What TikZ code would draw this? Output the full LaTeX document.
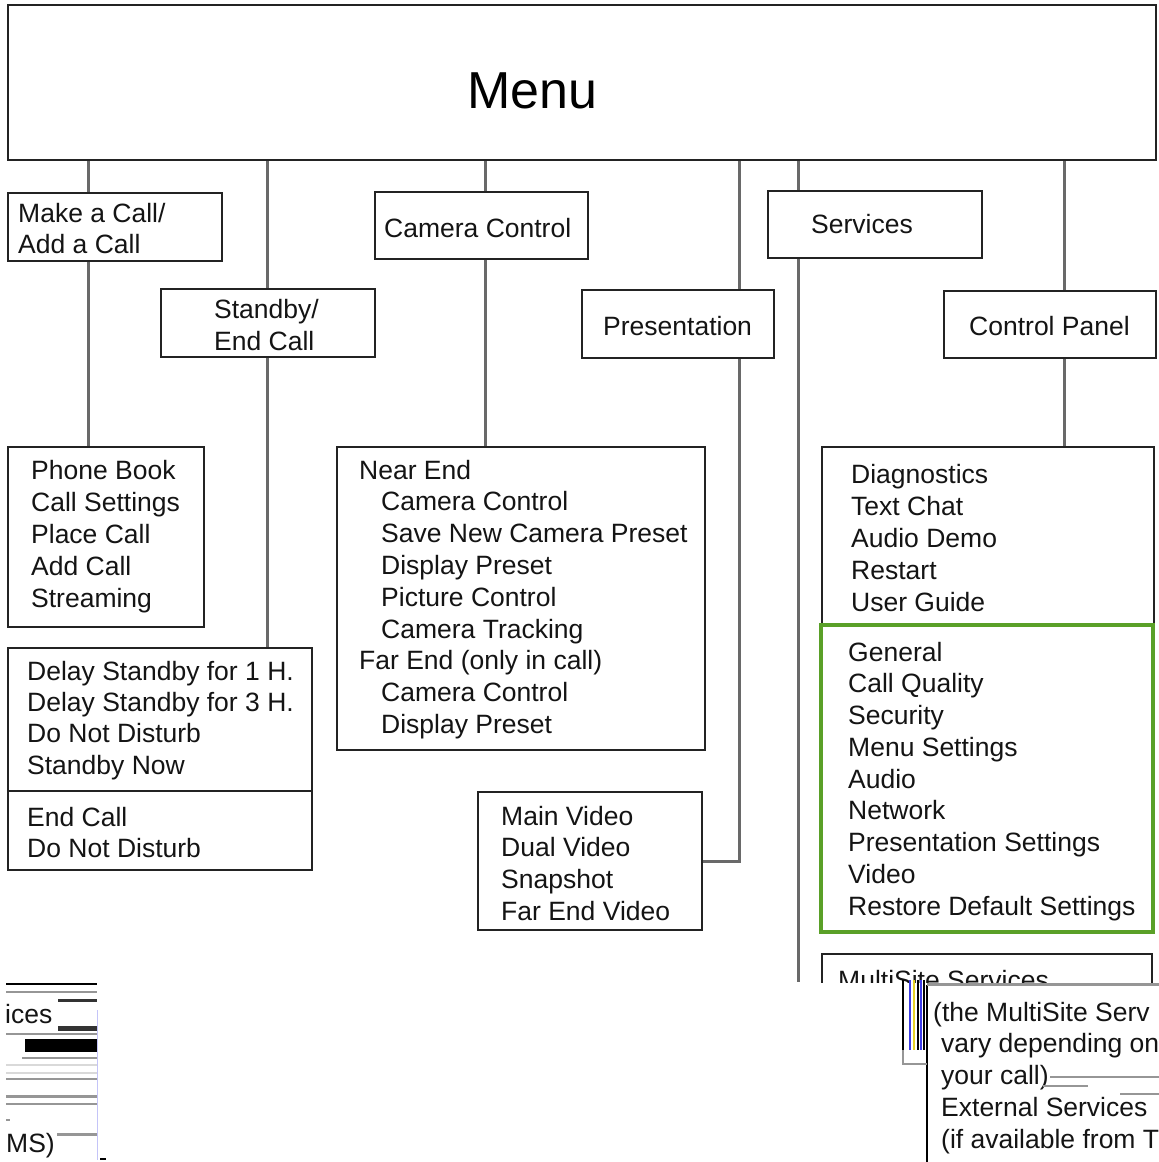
\documentclass[tikz,border=0pt]{standalone}
\usepackage{fontspec}
\setmainfont{Liberation Sans}
\usetikzlibrary{fit}
\newcommand\fsz{\fontsize{26.5}{32}\selectfont}
\newcommand\fbig{\fontsize{52}{60}\selectfont}
\definecolor{boxc}{RGB}{35,35,35}
\definecolor{connc}{RGB}{105,105,105}
\definecolor{grn}{RGB}{90,160,40}
\definecolor{txtc}{RGB}{20,20,20}
\definecolor{fragg}{RGB}{150,150,150}
\definecolor{fragb}{RGB}{60,60,230}
\definecolor{fragy}{RGB}{230,210,40}
\begin{document}
\begin{tikzpicture}[x=1pt,y=-1pt,
  boxn/.style={draw=boxc, line width=2.5pt, fill=white, inner sep=0pt, rectangle},
  greenbox/.style={draw=grn, line width=3.2pt, inner sep=0pt, rectangle},
  conn/.style={draw=connc, line width=3pt},
  item/.style={anchor=base west, inner sep=0pt, font=\fsz, text=txtc},
  bigt/.style={anchor=base west, inner sep=0pt, font=\fbig, text=black},
  frag/.style={draw=fragg, line width=1.6pt},
  fragdark/.style={draw=black!80, line width=3pt}]
\useasboundingbox (0,0) rectangle (1159,1162);
\fill[white] (0,0) rectangle (1159,1162);

% ---------- boxes ----------
\node[boxn, fit={(8,5) (1156,160)}] (menu) {};
\node[boxn, fit={(8,193) (222,261)}] (mk) {};
\node[boxn, fit={(161,289) (375,357)}] (sb) {};
\node[boxn, fit={(375,192) (588,259)}] (cc) {};
\node[boxn, fit={(582,290) (774,358)}] (pr) {};
\node[boxn, fit={(768,191) (982,258)}] (sv) {};
\node[boxn, fit={(944,291) (1156,358)}] (cp) {};
\node[boxn, fit={(8,447) (204,627)}] (pb) {};
\node[boxn, fit={(8,648) (312,870)}] (ds) {};
\node[boxn, fit={(337,447) (705,750)}] (ne) {};
\node[boxn, fit={(478,792) (702,930)}] (mv) {};
\node[boxn, fit={(822,447) (1154,626)}] (dg) {};
\node[greenbox, fit={(821,625) (1153,932)}] (gr) {};
\draw[draw=boxc, line width=2.5pt] (ds.west |- 0,791) -- (ds.east |- 0,791);

% ---------- connector x positions ----------
\coordinate (c1) at (88.5,0);
\coordinate (c2) at (267,0);
\coordinate (c3) at (485,0);
\coordinate (c4) at (739,0);
\coordinate (c5) at (798.5,0);
\coordinate (c6) at (1064.5,0);
\coordinate (svend) at (798.5,982);

\draw[conn] (menu.south -| c1) -- (mk.north -| c1);
\draw[conn] (mk.south -| c1) -- (pb.north -| c1);
\draw[conn] (menu.south -| c2) -- (sb.north -| c2);
\draw[conn] (sb.south -| c2) -- (ds.north -| c2);
\draw[conn] (menu.south -| c3) -- (cc.north -| c3);
\draw[conn] (cc.south -| c3) -- (ne.north -| c3);
\draw[conn] (menu.south -| c4) -- (pr.north -| c4);
\draw[conn] (pr.south -| c4) -- (c4 |- mv.east) -- (mv.east);
\draw[conn] (menu.south -| c5) -- (sv.north -| c5);
\draw[conn] (sv.south -| c5) -- (svend);
\draw[conn] (menu.south -| c6) -- (cp.north -| c6);
\draw[conn] (cp.south -| c6) -- (dg.north -| c6);

% ---------- labels ----------
\node[bigt] (tmenu) at (467,108) {Menu};
\node[item] (tmk1) at (18,222) {Make a Call/};
\node[item] (tmk2) at (18,253) {Add a Call};
\node[item] (tsb1) at (214,318) {Standby/};
\node[item] (tsb2) at (214,350) {End Call};
\node[item] (tcc) at (384,237) {Camera Control};
\node[item] (tpr) at (603,335) {Presentation};
\node[item] (tsv) at (811,233) {Services};
\node[item] (tcp) at (969,335) {Control Panel};

\foreach \t [count=\i from 0] in {Phone Book, Call Settings, Place Call, Add Call, Streaming}
  \node[item] (pb-\i) at (31,{479+32*\i}) {\t};
\foreach \t [count=\i from 0] in {Delay Standby for 1 H., Delay Standby for 3 H., Do Not Disturb, Standby Now}
  \node[item] (ds-\i) at (27,{680+31.4*\i}) {\t};
\node[item] (ds-4) at (27,826) {End Call};
\node[item] (ds-5) at (27,857) {Do Not Disturb};
\foreach \x/\t [count=\i from 0] in {359/Near End, 381/Camera Control, 381/Save New Camera Preset, 381/Display Preset, 381/Picture Control, 381/Camera Tracking, 359/Far End (only in call), 381/Camera Control, 381/Display Preset}
  \node[item] (ne-\i) at (\x,{479+31.8*\i}) {\t};
\foreach \t [count=\i from 0] in {Main Video, Dual Video, Snapshot, Far End Video}
  \node[item] (mv-\i) at (501,{825+31.7*\i}) {\t};
\foreach \t [count=\i from 0] in {Diagnostics, Text Chat, Audio Demo, Restart, User Guide}
  \node[item] (dg-\i) at (851,{483+32.2*\i}) {\t};
\foreach \t [count=\i from 0] in {General, Call Quality, Security, Menu Settings, Audio, Network, Presentation Settings, Video, Restore Default Settings}
  \node[item] (gr-\i) at (848,{661+31.75*\i}) {\t};

% ---------- MultiSite box (cut off by the damaged lower part) ----------
\begin{scope}
  \clip (0,0) rectangle (1159,982);
  \node[boxn, fit={(822,954) (1152,1100)}] (ms) {};
  \node[item] (tms) at (838,989) {MultiSite Services};
\end{scope}

% ---------- damaged fragment, bottom right ----------
\fill[white] (927,985) rectangle (1159,1162);
\draw[draw=black, line width=2pt] (927,985) -- (927,1162);
\draw[draw=fragg, line width=3pt] (927,984) -- (1159,984);
\foreach \xx/\cc in {903/black, 910/fragb, 914/fragy, 918/black, 921/fragb, 924/black}
  \draw[draw=\cc, line width=1.8pt] (\xx,980) -- (\xx,1050);
\draw[frag, line width=2pt] (903,1050) -- (903,1064) -- (927,1064);
\node[item] (f1) at (933,1021) {(the MultiSite Serv};
\node[item] (f2) at (941,1052) {vary depending on};
\node[item] (f3) at (941,1084) {your call)};
\node[item] (f4) at (941,1116) {External Services};
\node[item] (f5) at (941,1148) {(if available from T};
\draw[frag, line width=2.4pt] (1050,1077) -- (1159,1077);
\draw[frag] (1043,1086) -- (1088,1086);
\draw[frag, line width=2.4pt] (1120,1094) -- (1159,1094);

% ---------- damaged fragment, bottom left ----------
\draw[draw=black, line width=1.6pt] (6,984) -- (97,984);
\draw[frag] (6,992) -- (97,992);
\draw[fragdark] (58,1000) -- (97,1000);
\node[item] (fl1) at (5,1023) {ices};
\draw[fragdark, line width=5pt] (58,1028) -- (97,1028);
\draw[frag] (6,1034) -- (97,1034);
\draw[draw=black, line width=13pt] (25,1045) -- (97,1045);
\draw[frag] (22,1058) -- (97,1058);
\draw[draw=black!15, line width=1.4pt] (6,1065) -- (97,1065);
\draw[draw=black!15, line width=1.4pt] (6,1073) -- (97,1073);
\draw[frag, line width=2.2pt] (6,1079) -- (97,1079);
\draw[frag, line width=3pt] (6,1096) -- (97,1096);
\draw[frag] (6,1104) -- (97,1104);
\draw[frag] (6,1120) -- (10,1120);
\node[item] (fl2) at (6,1152) {MS)};
\draw[frag, line width=3pt] (57,1134) -- (97,1134);
\draw[draw=fragb!30, line width=1pt] (97,1010) -- (97,1160);
\draw[draw=black, line width=2pt] (100,1159) -- (106,1159);
\end{tikzpicture}
\end{document}
